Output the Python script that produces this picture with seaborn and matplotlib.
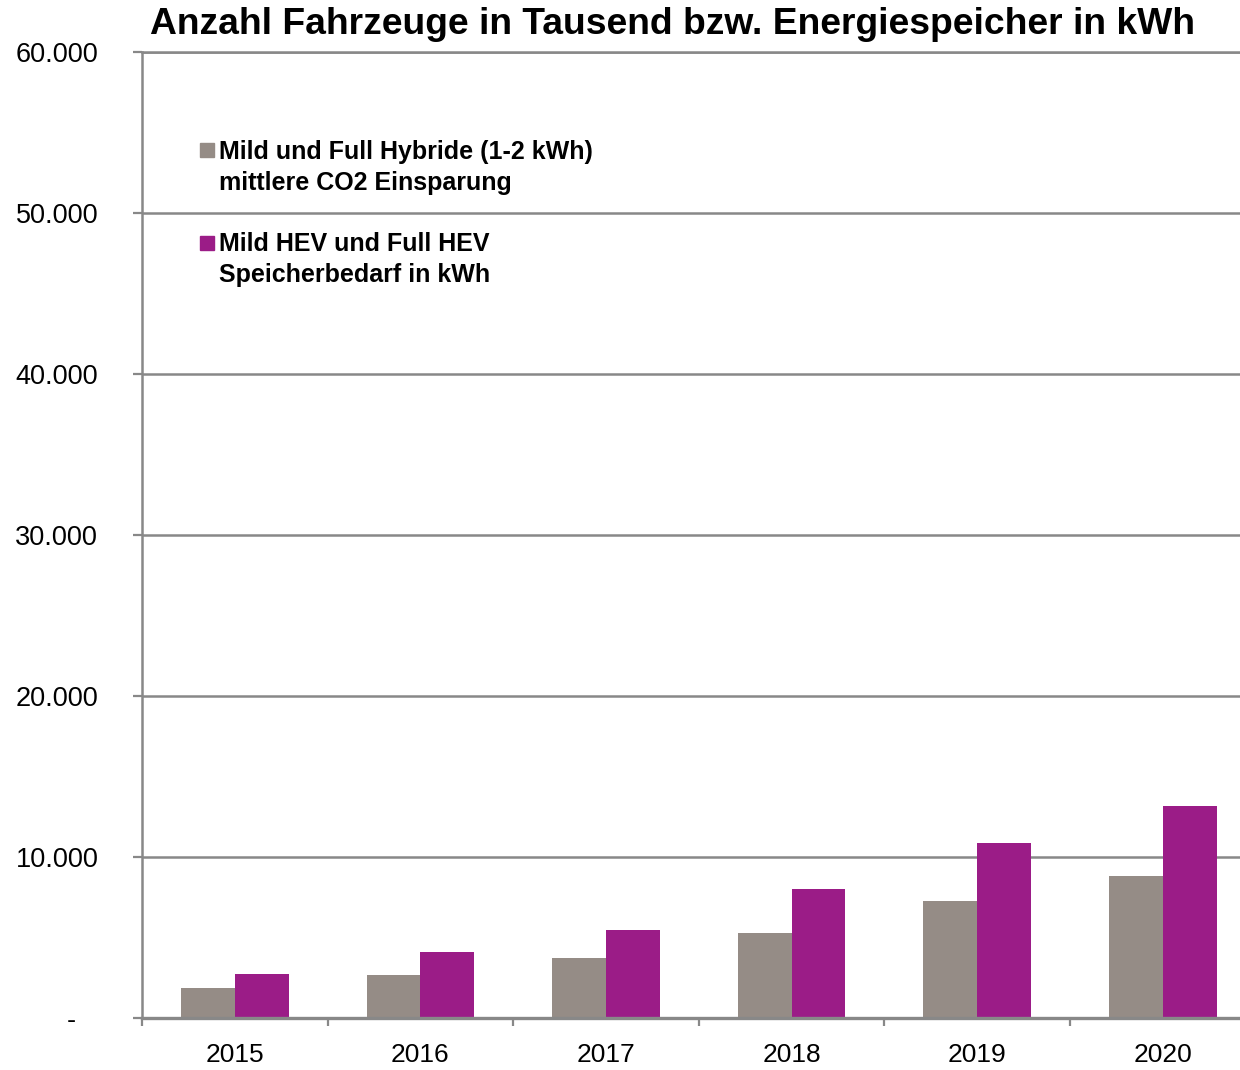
import matplotlib
matplotlib.use("Agg")
import matplotlib.pyplot as plt
from matplotlib.lines import Line2D
from matplotlib.ticker import FixedLocator
import seaborn as sns
import pandas as pd

# ---- data ----
years = ["2015", "2016", "2017", "2018", "2019", "2020"]
series_names = ["Mild und Full Hybride (1-2 kWh)\nmittlere CO2 Einsparung",
                "Mild HEV und Full HEV\nSpeicherbedarf in kWh"]
hybride_values = [1850, 2700, 3750, 5300, 7250, 8800]
speicher_values = [2750, 4100, 5450, 8000, 10900, 13150]
ytick_values = [0, 10000, 20000, 30000, 40000, 50000, 60000]
ytick_labels = ["-   ", "10.000", "20.000", "30.000", "40.000", "50.000", "60.000"]
title = "Anzahl Fahrzeuge in Tausend bzw. Energiespeicher in kWh"

colors = ["#958c86", "#9b1c87"]
gridc = "#888888"

df = pd.DataFrame({
    "Jahr": years * 2,
    "Wert": hybride_values + speicher_values,
    "Serie": [series_names[0]] * len(years) + [series_names[1]] * len(years),
})

sns.set_theme(style="white")
plt.rcParams["font.family"] = ["Liberation Sans", "DejaVu Sans"]

fig = plt.figure(figsize=(12.4, 10.7), dpi=100)
ax = fig.add_axes([142 / 1240, 1 - 1018 / 1070, 1 - 142 / 1240, (1018 - 52) / 1070])

sns.barplot(data=df, x="Jahr", y="Wert", hue="Serie", order=years,
            hue_order=series_names, palette=colors, width=0.58, gap=0,
            saturation=1, ax=ax, legend=False, errorbar=None, linewidth=0)

ax.set_ylim(0, 60000)
slot = 185.6
ax.set_xlim(-0.5, (1240 - 142) / slot - 0.5)
ax.set_xlabel("")
ax.set_ylabel("")

ax.set_yticks(ytick_values)
ax.set_yticklabels(ytick_labels)
ax.yaxis.grid(True, color=gridc, linewidth=1.8)
ax.set_axisbelow(True)

ax.set_xticks(range(len(years)))
ax.set_xticklabels(years)
ax.xaxis.set_minor_locator(FixedLocator([i - 0.5 for i in range(len(years))]))
ax.tick_params(axis="x", which="major", length=0, pad=18, labelsize=19, labelcolor="black")
ax.tick_params(axis="x", which="minor", length=6, width=1.6, color=gridc, direction="out", bottom=True)
ax.tick_params(axis="y", which="major", length=6.5, width=1.6, color=gridc, direction="out",
               pad=25, labelsize=19.5, labelcolor="black", left=True)

for side in ["left", "bottom", "top"]:
    ax.spines[side].set_visible(True)
    ax.spines[side].set_color(gridc)
    ax.spines[side].set_linewidth(1.8)
ax.spines["bottom"].set_linewidth(2.4)
ax.spines["right"].set_visible(False)

# legend
lines1 = series_names[0].split("\n")
lines2 = series_names[1].split("\n")
blank = Line2D([], [], linestyle="none", marker=None)
handles = [
    Line2D([], [], linestyle="none", marker="s", markersize=10, color=colors[0]),
    blank, blank,
    Line2D([], [], linestyle="none", marker="s", markersize=10, color=colors[1]),
    blank,
]
labels = [lines1[0], lines1[1], "", lines2[0], lines2[1]]
leg = ax.legend(handles, labels, loc="upper left",
                bbox_to_anchor=((199 - 142) / 1098, (1018 - 140) / 966),
                frameon=False, borderpad=0, borderaxespad=0, handlelength=0.6,
                handletextpad=0.2, labelspacing=0.27,
                prop={"size": 18, "weight": "bold"})
for t in leg.get_texts():
    t.set_color("black")

fig.text(672 / 1240, 1 - 24 / 1070, title, ha="center", va="center",
         fontsize=26.8, fontweight="bold", color="black")

fig.savefig("out.png", dpi=100)
